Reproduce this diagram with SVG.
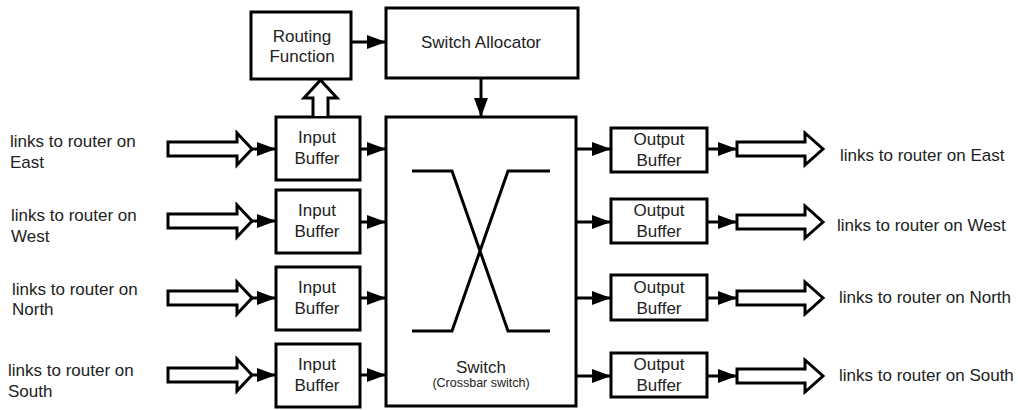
<svg xmlns="http://www.w3.org/2000/svg" width="1018" height="410" viewBox="0 0 1018 410">
  <style>
    .box { fill: #fff; stroke: #000; stroke-width: 3; }
    .wire { fill: none; stroke: #000; stroke-width: 3; }
    .hollow { fill: #fff; stroke: #000; stroke-width: 3; stroke-linejoin: miter; }
    .xbar { fill: none; stroke: #000; stroke-width: 3; }
    text { font-family: "Liberation Sans", Arial, sans-serif; font-size: 17px; fill: #222; }
    .c { text-anchor: middle; }
    .small { font-size: 12.5px; }
  </style>
  <defs>
    <marker id="head" markerUnits="userSpaceOnUse" markerWidth="19" markerHeight="14" refX="19" refY="7" orient="auto">
      <path d="M0,0 L19,7 L0,14 Z" fill="#000"/>
    </marker>
  </defs>

  <rect width="1018" height="410" fill="#fff"/>

  <!-- control path -->
  <g id="routing-function">
    <rect class="box" x="251" y="12" width="100" height="67"/>
    <text class="c" x="302" y="42">Routing</text>
    <text class="c" x="302" y="62">Function</text>
  </g>
  <g id="switch-allocator">
    <rect class="box" x="386" y="8" width="192" height="70"/>
    <text class="c" x="481" y="48">Switch Allocator</text>
  </g>

  <!-- crossbar -->
  <g id="switch">
    <rect class="box" x="386" y="117" width="190" height="289"/>
    <path class="xbar" d="M412,171 L452,171 L508,331 L550,331 M550,171 L508,171 L452,331 L412,331"/>
    <text class="c" x="481" y="373">Switch</text>
    <text class="c small" x="481" y="387">(Crossbar switch)</text>
  </g>

  <!-- input side -->
  <g id="input-east">
    <text x="10" y="147">links to router on</text>
    <text x="10" y="168">East</text>
    <rect class="box" x="276" y="117" width="84" height="63"/>
    <text class="c" x="317" y="143">Input</text>
    <text class="c" x="317" y="164">Buffer</text>
  </g>
  <g id="input-west">
    <text x="11" y="221">links to router on</text>
    <text x="11" y="242">West</text>
    <rect class="box" x="276" y="190" width="84" height="63"/>
    <text class="c" x="317" y="216">Input</text>
    <text class="c" x="317" y="237">Buffer</text>
  </g>
  <g id="input-north">
    <text x="12" y="295">links to router on</text>
    <text x="12" y="315">North</text>
    <rect class="box" x="276" y="267" width="84" height="63"/>
    <text class="c" x="317" y="293">Input</text>
    <text class="c" x="317" y="314">Buffer</text>
  </g>
  <g id="input-south">
    <text x="8" y="376">links to router on</text>
    <text x="8" y="397">South</text>
    <rect class="box" x="276" y="344" width="84" height="63"/>
    <text class="c" x="317" y="370">Input</text>
    <text class="c" x="317" y="391">Buffer</text>
  </g>

  <!-- output side -->
  <g id="output-east">
    <rect class="box" x="611" y="128" width="96" height="44"/>
    <text class="c" x="659" y="145">Output</text>
    <text class="c" x="659" y="166">Buffer</text>
    <text x="840" y="161">links to router on East</text>
  </g>
  <g id="output-west">
    <rect class="box" x="611" y="199" width="96" height="44"/>
    <text class="c" x="659" y="216">Output</text>
    <text class="c" x="659" y="237">Buffer</text>
    <text x="837" y="231">links to router on West</text>
  </g>
  <g id="output-north">
    <rect class="box" x="611" y="275" width="96" height="45"/>
    <text class="c" x="659" y="293">Output</text>
    <text class="c" x="659" y="314">Buffer</text>
    <text x="839" y="303">links to router on North</text>
  </g>
  <g id="output-south">
    <rect class="box" x="611" y="353" width="96" height="44"/>
    <text class="c" x="659" y="370">Output</text>
    <text class="c" x="659" y="391">Buffer</text>
    <text x="839" y="381">links to router on South</text>
  </g>

  <g id="connectors">
    <!-- control arrows -->
    <line class="wire" x1="351" y1="42" x2="386" y2="42" marker-end="url(#head)"/>
    <line class="wire" x1="481" y1="78" x2="481" y2="117" marker-end="url(#head)"/>
    <path class="hollow" d="M313,116 L313,98 L304,98 L320.5,80 L337,98 L328,98 L328,116"/>

    <!-- incoming links -->
    <path class="hollow" d="M168,142 L237,142 L237,133 L252,149 L237,165 L237,156 L168,156 Z"/>
    <path class="hollow" d="M168,214 L237,214 L237,205 L252,221 L237,237 L237,228 L168,228 Z"/>
    <path class="hollow" d="M168,291 L237,291 L237,282 L252,298 L237,314 L237,305 L168,305 Z"/>
    <path class="hollow" d="M168,368 L237,368 L237,359 L252,375 L237,391 L237,382 L168,382 Z"/>
    <line class="wire" x1="252" y1="149" x2="276" y2="149" marker-end="url(#head)"/>
    <line class="wire" x1="252" y1="221" x2="276" y2="221" marker-end="url(#head)"/>
    <line class="wire" x1="252" y1="298" x2="276" y2="298" marker-end="url(#head)"/>
    <line class="wire" x1="252" y1="375" x2="276" y2="375" marker-end="url(#head)"/>

    <!-- input buffers to crossbar -->
    <line class="wire" x1="360" y1="149" x2="386" y2="149" marker-end="url(#head)"/>
    <line class="wire" x1="360" y1="222" x2="386" y2="222" marker-end="url(#head)"/>
    <line class="wire" x1="360" y1="298" x2="386" y2="298" marker-end="url(#head)"/>
    <line class="wire" x1="360" y1="375" x2="386" y2="375" marker-end="url(#head)"/>

    <!-- crossbar to output buffers -->
    <line class="wire" x1="576" y1="149" x2="611" y2="149" marker-end="url(#head)"/>
    <line class="wire" x1="576" y1="222" x2="611" y2="222" marker-end="url(#head)"/>
    <line class="wire" x1="576" y1="298" x2="611" y2="298" marker-end="url(#head)"/>
    <line class="wire" x1="576" y1="376" x2="611" y2="376" marker-end="url(#head)"/>

    <!-- output buffers to outgoing links -->
    <line class="wire" x1="707" y1="149" x2="737" y2="149" marker-end="url(#head)"/>
    <line class="wire" x1="707" y1="222" x2="737" y2="222" marker-end="url(#head)"/>
    <line class="wire" x1="707" y1="298" x2="737" y2="298" marker-end="url(#head)"/>
    <line class="wire" x1="707" y1="376" x2="737" y2="376" marker-end="url(#head)"/>
    <path class="hollow" d="M737,142 L805,142 L805,133 L823,149 L805,165 L805,156 L737,156 Z"/>
    <path class="hollow" d="M737,215 L805,215 L805,206 L823,222 L805,238 L805,229 L737,229 Z"/>
    <path class="hollow" d="M737,291 L805,291 L805,282 L823,298 L805,314 L805,305 L737,305 Z"/>
    <path class="hollow" d="M737,369 L805,369 L805,360 L823,376 L805,392 L805,383 L737,383 Z"/>
  </g>
</svg>
